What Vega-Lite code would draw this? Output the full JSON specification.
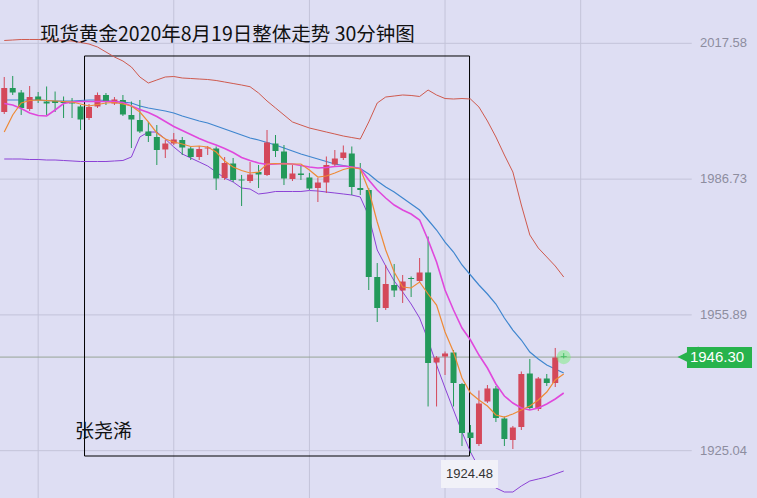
{
  "$schema": "https://vega.github.io/schema/vega-lite/v6.json",
  "width": 757,
  "height": 498,
  "autosize": {"type": "none"},
  "padding": 0,
  "background": "#dedef3",
  "config": {"view": {"stroke": null}, "font": "Liberation Sans", "scale": {"continuousPadding": 0}},
  "title": {
    "text": "现货黄金2020年8月19日整体走势 30分钟图",
    "anchor": "start",
    "frame": "group",
    "orient": "top",
    "offset": 0,
    "baseline": "bottom",
    "dx": 40,
    "dy": 65,
    "font": "Noto Sans CJK SC",
    "fontSize": 19.5,
    "fontWeight": "normal",
    "color": "#111111"
  },
  "datasets": {
    "k": [
      {"i":0,"o":2001.98,"h":2009.93,"l":2001.52,"c":2007.43},
      {"i":1,"o":2007.43,"h":2010.16,"l":2005.84,"c":2006.41},
      {"i":2,"o":2006.41,"h":2006.97,"l":2001.30,"c":2002.89},
      {"i":3,"o":2002.66,"h":2007.88,"l":2002.20,"c":2005.38},
      {"i":4,"o":2005.50,"h":2006.52,"l":2004.02,"c":2004.70},
      {"i":5,"o":2004.36,"h":2007.77,"l":2001.30,"c":2003.91},
      {"i":6,"o":2004.48,"h":2006.63,"l":2001.98,"c":2004.02},
      {"i":7,"o":2004.36,"h":2005.50,"l":2000.61,"c":2004.02},
      {"i":8,"o":2004.25,"h":2005.16,"l":2000.61,"c":2003.91},
      {"i":9,"o":2003.23,"h":2003.57,"l":1997.89,"c":2000.27},
      {"i":10,"o":2000.61,"h":2003.79,"l":2000.16,"c":2003.11},
      {"i":11,"o":2003.23,"h":2006.41,"l":2002.89,"c":2005.84},
      {"i":12,"o":2005.84,"h":2006.29,"l":2003.57,"c":2004.36},
      {"i":13,"o":2003.91,"h":2005.38,"l":2003.57,"c":2004.82},
      {"i":14,"o":2004.70,"h":2005.84,"l":2001.07,"c":2001.41},
      {"i":15,"o":2001.30,"h":2004.36,"l":1993.80,"c":2000.27},
      {"i":16,"o":2000.16,"h":2004.70,"l":1997.21,"c":1997.55},
      {"i":17,"o":1997.55,"h":1999.71,"l":1995.16,"c":1996.52},
      {"i":18,"o":1996.30,"h":1999.02,"l":1989.94,"c":1993.34},
      {"i":19,"o":1993.46,"h":1995.62,"l":1991.53,"c":1994.82},
      {"i":20,"o":1994.82,"h":1997.21,"l":1994.48,"c":1995.73},
      {"i":21,"o":1995.62,"h":1996.30,"l":1992.21,"c":1993.91},
      {"i":22,"o":1993.69,"h":1994.03,"l":1991.07,"c":1991.75},
      {"i":23,"o":1991.75,"h":1994.25,"l":1991.07,"c":1993.57},
      {"i":24,"o":1993.69,"h":1994.25,"l":1992.21,"c":1993.91},
      {"i":25,"o":1993.69,"h":1994.14,"l":1984.26,"c":1986.87},
      {"i":26,"o":1986.98,"h":1991.75,"l":1986.53,"c":1990.39},
      {"i":27,"o":1990.28,"h":1991.53,"l":1986.08,"c":1986.53},
      {"i":28,"o":1986.64,"h":1987.67,"l":1980.62,"c":1986.42},
      {"i":29,"o":1986.30,"h":1990.62,"l":1985.85,"c":1987.78},
      {"i":30,"o":1988.35,"h":1989.94,"l":1984.71,"c":1987.78},
      {"i":31,"o":1987.67,"h":1997.89,"l":1987.44,"c":1995.05},
      {"i":32,"o":1994.82,"h":1996.75,"l":1991.75,"c":1993.12},
      {"i":33,"o":1993.00,"h":1994.48,"l":1985.39,"c":1986.87},
      {"i":34,"o":1986.76,"h":1989.94,"l":1986.30,"c":1988.01},
      {"i":35,"o":1988.01,"h":1989.94,"l":1986.53,"c":1987.67},
      {"i":36,"o":1987.10,"h":1988.12,"l":1984.26,"c":1984.60},
      {"i":37,"o":1984.71,"h":1986.98,"l":1981.53,"c":1985.96},
      {"i":38,"o":1985.96,"h":1991.87,"l":1983.58,"c":1989.94},
      {"i":39,"o":1990.05,"h":1993.34,"l":1989.71,"c":1991.41},
      {"i":40,"o":1991.53,"h":1994.37,"l":1991.07,"c":1992.78},
      {"i":41,"o":1992.55,"h":1994.14,"l":1983.12,"c":1984.94},
      {"i":42,"o":1984.71,"h":1990.39,"l":1983.12,"c":1984.26},
      {"i":43,"o":1984.26,"h":1984.71,"l":1961.54,"c":1964.49},
      {"i":44,"o":1964.49,"h":1967.67,"l":1954.27,"c":1957.45},
      {"i":45,"o":1957.45,"h":1967.22,"l":1957.00,"c":1962.90},
      {"i":46,"o":1962.68,"h":1967.45,"l":1959.95,"c":1961.43},
      {"i":47,"o":1961.43,"h":1964.95,"l":1958.59,"c":1963.47},
      {"i":48,"o":1964.27,"h":1964.61,"l":1959.95,"c":1964.04},
      {"i":49,"o":1963.59,"h":1968.81,"l":1963.13,"c":1965.52},
      {"i":50,"o":1965.52,"h":1973.69,"l":1935.08,"c":1944.96},
      {"i":51,"o":1945.07,"h":1946.55,"l":1935.08,"c":1946.21},
      {"i":52,"o":1946.43,"h":1947.57,"l":1942.23,"c":1947.12},
      {"i":53,"o":1947.34,"h":1947.91,"l":1935.08,"c":1940.41},
      {"i":54,"o":1940.19,"h":1940.41,"l":1926.10,"c":1929.06},
      {"i":55,"o":1929.17,"h":1930.87,"l":1924.48,"c":1927.92},
      {"i":56,"o":1926.56,"h":1938.71,"l":1926.10,"c":1935.76},
      {"i":57,"o":1936.21,"h":1939.96,"l":1935.87,"c":1939.17},
      {"i":58,"o":1939.17,"h":1939.73,"l":1931.55,"c":1932.46},
      {"i":59,"o":1932.35,"h":1932.80,"l":1926.10,"c":1927.69},
      {"i":60,"o":1927.47,"h":1930.65,"l":1925.42,"c":1930.30},
      {"i":61,"o":1930.42,"h":1943.03,"l":1929.74,"c":1942.46},
      {"i":62,"o":1942.57,"h":1945.87,"l":1934.28,"c":1934.73},
      {"i":63,"o":1934.51,"h":1941.78,"l":1934.05,"c":1941.44},
      {"i":64,"o":1941.44,"h":1942.46,"l":1939.73,"c":1940.41},
      {"i":65,"o":1940.41,"h":1948.37,"l":1939.50,"c":1946.21},
      {"i":66,"o":1946.50,"h":1947.20,"l":1946.00,"c":1946.30}
    ],
    "ma": [
      {"i":0,"up":2018.22,"mid":2004.70,"lo":1991.30,"mg":2003.91,"ma":1997.43},
      {"i":1,"up":2018.33,"mid":2004.70,"lo":1991.30,"mg":2003.57,"ma":2001.30},
      {"i":2,"up":2018.45,"mid":2004.70,"lo":1991.30,"mg":2002.77,"ma":2004.02},
      {"i":3,"up":2018.45,"mid":2004.70,"lo":1991.19,"mg":2001.75,"ma":2004.59},
      {"i":4,"up":2018.45,"mid":2004.70,"lo":1991.19,"mg":2001.18,"ma":2004.70},
      {"i":5,"up":2018.40,"mid":2004.59,"lo":1991.07,"mg":2001.07,"ma":2004.59},
      {"i":6,"up":2018.33,"mid":2004.48,"lo":1991.07,"mg":2002.43,"ma":2004.48},
      {"i":7,"up":2018.22,"mid":2004.48,"lo":1990.96,"mg":2003.91,"ma":2004.36},
      {"i":8,"up":2018.11,"mid":2004.48,"lo":1990.85,"mg":2004.25,"ma":2004.25},
      {"i":9,"up":2017.77,"mid":2004.59,"lo":1990.73,"mg":2004.36,"ma":2003.79},
      {"i":10,"up":2017.42,"mid":2004.70,"lo":1990.73,"mg":2004.36,"ma":2003.34},
      {"i":11,"up":2016.74,"mid":2004.70,"lo":1990.73,"mg":2004.36,"ma":2003.68},
      {"i":12,"up":2015.61,"mid":2004.59,"lo":1990.73,"mg":2004.36,"ma":2004.02},
      {"i":13,"up":2014.47,"mid":2004.36,"lo":1990.85,"mg":2004.36,"ma":2004.14},
      {"i":14,"up":2013.56,"mid":2004.25,"lo":1990.96,"mg":2004.14,"ma":2003.79},
      {"i":15,"up":2012.20,"mid":2004.02,"lo":1991.75,"mg":2003.34,"ma":2003.34},
      {"i":16,"up":2009.93,"mid":2003.34,"lo":1996.30,"mg":2002.55,"ma":2001.98},
      {"i":17,"up":2008.56,"mid":2002.89,"lo":1997.43,"mg":2001.86,"ma":1999.71},
      {"i":18,"up":2009.25,"mid":2002.55,"lo":1997.43,"mg":2000.95,"ma":1997.21},
      {"i":19,"up":2009.93,"mid":2002.20,"lo":1995.84,"mg":1999.82,"ma":1995.84},
      {"i":20,"up":2010.04,"mid":2001.75,"lo":1994.03,"mg":1998.68,"ma":1995.16},
      {"i":21,"up":2009.70,"mid":2001.07,"lo":1992.44,"mg":1997.77,"ma":1994.71},
      {"i":22,"up":2009.59,"mid":2000.50,"lo":1991.53,"mg":1996.87,"ma":1994.14},
      {"i":23,"up":2009.47,"mid":1999.93,"lo":1990.62,"mg":1995.96,"ma":1994.25},
      {"i":24,"up":2009.36,"mid":1999.48,"lo":1989.71,"mg":1995.16,"ma":1994.03},
      {"i":25,"up":2009.13,"mid":1998.80,"lo":1988.35,"mg":1994.48,"ma":1992.89},
      {"i":26,"up":2008.79,"mid":1998.12,"lo":1986.98,"mg":1993.69,"ma":1990.85},
      {"i":27,"up":2008.45,"mid":1997.43,"lo":1986.08,"mg":1992.78,"ma":1989.48},
      {"i":28,"up":2008.11,"mid":1996.75,"lo":1984.71,"mg":1991.64,"ma":1988.69},
      {"i":29,"up":2007.72,"mid":1996.07,"lo":1984.48,"mg":1990.96,"ma":1988.12},
      {"i":30,"up":2006.29,"mid":1995.62,"lo":1983.35,"mg":1990.39,"ma":1988.35},
      {"i":31,"up":2004.48,"mid":1995.05,"lo":1983.58,"mg":1990.05,"ma":1990.16},
      {"i":32,"up":2002.89,"mid":1994.48,"lo":1983.92,"mg":1990.16,"ma":1990.28},
      {"i":33,"up":2001.30,"mid":1993.80,"lo":1983.92,"mg":1990.28,"ma":1990.16},
      {"i":34,"up":1999.71,"mid":1993.12,"lo":1983.92,"mg":1990.16,"ma":1990.16},
      {"i":35,"up":1999.02,"mid":1992.44,"lo":1983.92,"mg":1989.82,"ma":1990.16},
      {"i":36,"up":1998.34,"mid":1991.87,"lo":1984.14,"mg":1989.48,"ma":1988.80},
      {"i":37,"up":1997.89,"mid":1991.30,"lo":1984.03,"mg":1989.26,"ma":1987.21},
      {"i":38,"up":1997.43,"mid":1990.73,"lo":1983.80,"mg":1989.37,"ma":1987.44},
      {"i":39,"up":1996.98,"mid":1990.16,"lo":1983.58,"mg":1989.60,"ma":1988.12},
      {"i":40,"up":1996.52,"mid":1989.82,"lo":1983.35,"mg":1989.71,"ma":1988.91},
      {"i":41,"up":1996.18,"mid":1989.48,"lo":1983.12,"mg":1989.48,"ma":1989.37},
      {"i":42,"up":1995.84,"mid":1989.14,"lo":1982.67,"mg":1989.14,"ma":1989.03},
      {"i":43,"up":1999.71,"mid":1987.89,"lo":1978.35,"mg":1986.53,"ma":1984.26},
      {"i":44,"up":2004.02,"mid":1986.30,"lo":1970.63,"mg":1984.26,"ma":1976.99},
      {"i":45,"up":2005.38,"mid":1984.94,"lo":1966.99,"mg":1982.44,"ma":1970.63},
      {"i":46,"up":2005.61,"mid":1983.80,"lo":1963.59,"mg":1980.85,"ma":1965.63},
      {"i":47,"up":2005.84,"mid":1982.44,"lo":1961.09,"mg":1979.71,"ma":1962.22},
      {"i":48,"up":2005.73,"mid":1981.08,"lo":1958.36,"mg":1978.81,"ma":1962.00},
      {"i":49,"up":2005.50,"mid":1979.71,"lo":1955.18,"mg":1977.44,"ma":1963.36},
      {"i":50,"up":2006.97,"mid":1977.44,"lo":1950.18,"mg":1972.90,"ma":1960.63},
      {"i":51,"up":2005.84,"mid":1975.17,"lo":1944.50,"mg":1967.90,"ma":1958.13},
      {"i":52,"up":2005.04,"mid":1972.44,"lo":1939.28,"mg":1961.54,"ma":1952.00},
      {"i":53,"up":2004.93,"mid":1970.17,"lo":1934.28,"mg":1957.00,"ma":1947.46},
      {"i":54,"up":2005.04,"mid":1967.22,"lo":1929.28,"mg":1952.91,"ma":1941.55},
      {"i":55,"up":2004.93,"mid":1964.95,"lo":1924.74,"mg":1950.18,"ma":1938.14},
      {"i":56,"up":2003.11,"mid":1962.68,"lo":1921.10,"mg":1946.77,"ma":1936.55},
      {"i":57,"up":1999.93,"mid":1960.63,"lo":1918.38,"mg":1943.82,"ma":1935.19},
      {"i":58,"up":1996.30,"mid":1958.36,"lo":1916.56,"mg":1940.19,"ma":1933.14},
      {"i":59,"up":1992.21,"mid":1955.18,"lo":1915.65,"mg":1937.46,"ma":1932.69},
      {"i":60,"up":1988.35,"mid":1952.45,"lo":1915.65,"mg":1935.87,"ma":1933.37},
      {"i":61,"up":1980.85,"mid":1950.18,"lo":1917.02,"mg":1934.73,"ma":1934.28},
      {"i":62,"up":1974.04,"mid":1947.46,"lo":1918.15,"mg":1934.28,"ma":1935.19},
      {"i":63,"up":1971.08,"mid":1945.87,"lo":1918.61,"mg":1934.73,"ma":1936.55},
      {"i":64,"up":1969.04,"mid":1944.50,"lo":1919.06,"mg":1935.64,"ma":1938.37},
      {"i":65,"up":1966.99,"mid":1943.59,"lo":1919.74,"mg":1936.78,"ma":1941.10},
      {"i":66,"up":1964.49,"mid":1942.69,"lo":1920.42,"mg":1938.14,"ma":1942.46}
    ],
    "grid": [{"p":2017.58},{"p":1986.73},{"p":1955.89},{"p":1925.04}],
    "vgrid": [{"i":4},{"i":20},{"i":36},{"i":52},{"i":68}],
    "last": [{"i":66,"price":1946.30,"label":"1946.30"}],
    "low": [{"i":55,"price":1924.48,"label":"1924.48"}],
    "author": [{"name":"张尧浠"}]
  },
  "layer": [
    {
      "data": {"name": "vgrid"},
      "mark": {"type": "rule", "color": "#c3c3d9", "strokeWidth": 1},
      "encoding": {
        "x": {"field": "i", "type": "quantitative", "scale": {"domain": [-0.5, 88.8], "nice": false, "zero": false, "padding": 0}, "axis": null}
      }
    },
    {
      "data": {"name": "grid"},
      "mark": {"type": "rule", "color": "#c3c3d9", "strokeWidth": 1},
      "encoding": {
        "y": {"field": "p", "type": "quantitative", "scale": {"domain": [1914.29, 2027.42], "nice": false, "zero": false, "padding": 0}, "axis": null},
        "x": {"datum": -0.5, "type": "quantitative", "scale": {"domain": [-0.5, 88.8], "nice": false, "zero": false, "padding": 0}, "axis": null},
        "x2": {"datum": 81.1}
      }
    },
    {
      "data": {"name": "grid"},
      "mark": {"type": "text", "color": "#8d8d9f", "fontSize": 13, "font": "Liberation Sans", "align": "right", "baseline": "middle"},
      "encoding": {
        "y": {"field": "p", "type": "quantitative", "axis": null},
        "x": {"datum": 87.62, "type": "quantitative", "axis": null},
        "text": {"field": "p", "type": "quantitative", "format": ".2f"}
      }
    },
    {
      "data": {"name": "last"},
      "mark": {"type": "rule", "color": "#97a497", "strokeWidth": 1},
      "encoding": {
        "y": {"field": "price", "type": "quantitative", "axis": null},
        "x": {"datum": -0.5, "type": "quantitative", "axis": null},
        "x2": {"datum": 80.4}
      }
    },
    {
      "data": {"values": [{}]},
      "mark": {"type": "rect", "filled": false, "stroke": "#000000", "strokeWidth": 1},
      "encoding": {
        "x": {"datum": 9.47, "type": "quantitative", "axis": null},
        "x2": {"datum": 54.89},
        "y": {"datum": 2014.70, "type": "quantitative", "axis": null},
        "y2": {"datum": 1923.83}
      }
    },
    {
      "data": {"name": "ma"},
      "mark": {"type": "line", "color": "#cf5a4e", "strokeWidth": 1},
      "encoding": {
        "x": {"field": "i", "type": "quantitative", "axis": null},
        "y": {"field": "up", "type": "quantitative", "axis": null}
      }
    },
    {
      "data": {"name": "ma"},
      "mark": {"type": "line", "color": "#3f86cf", "strokeWidth": 1.2},
      "encoding": {
        "x": {"field": "i", "type": "quantitative", "axis": null},
        "y": {"field": "mid", "type": "quantitative", "axis": null}
      }
    },
    {
      "data": {"name": "ma"},
      "mark": {"type": "line", "color": "#8c42d6", "strokeWidth": 1},
      "encoding": {
        "x": {"field": "i", "type": "quantitative", "axis": null},
        "y": {"field": "lo", "type": "quantitative", "axis": null}
      }
    },
    {
      "data": {"name": "k"},
      "mark": {"type": "rule", "strokeWidth": 1},
      "encoding": {
        "x": {"field": "i", "type": "quantitative", "axis": null},
        "y": {"field": "l", "type": "quantitative", "axis": null},
        "y2": {"field": "h"},
        "color": {"condition": {"test": "datum.c > datum.o", "value": "#d4485a"}, "value": "#23995a"}
      }
    },
    {
      "data": {"name": "k"},
      "mark": {"type": "bar", "size": 6},
      "encoding": {
        "x": {"field": "i", "type": "quantitative", "axis": null},
        "y": {"field": "o", "type": "quantitative", "axis": null},
        "y2": {"field": "c"},
        "color": {"condition": {"test": "datum.c > datum.o", "value": "#d4485a"}, "value": "#23995a"}
      }
    },
    {
      "data": {"name": "ma"},
      "mark": {"type": "line", "color": "#e048dc", "strokeWidth": 1.6},
      "encoding": {
        "x": {"field": "i", "type": "quantitative", "axis": null},
        "y": {"field": "mg", "type": "quantitative", "axis": null}
      }
    },
    {
      "data": {"name": "ma"},
      "mark": {"type": "line", "color": "#ee8a36", "strokeWidth": 1.2},
      "encoding": {
        "x": {"field": "i", "type": "quantitative", "axis": null},
        "y": {"field": "ma", "type": "quantitative", "axis": null}
      }
    },
    {
      "data": {"name": "last"},
      "mark": {"type": "point", "shape": "circle", "filled": true, "size": 200, "color": "#6ef06e", "opacity": 0.45},
      "encoding": {
        "x": {"field": "i", "type": "quantitative", "axis": null},
        "y": {"field": "price", "type": "quantitative", "axis": null}
      }
    },
    {
      "data": {"name": "last"},
      "mark": {"type": "rect", "color": "#27b34c"},
      "encoding": {
        "x": {"datum": 80.54, "type": "quantitative", "axis": null},
        "x2": {"datum": 88.21},
        "y": {"datum": 1948.59, "type": "quantitative", "axis": null},
        "y2": {"datum": 1943.82}
      }
    },
    {
      "data": {"name": "last"},
      "mark": {"type": "point", "shape": "M-1,0L1,-1L1,1Z", "filled": true, "size": 441, "color": "#27b34c", "opacity": 1},
      "encoding": {
        "x": {"datum": 80.66, "type": "quantitative", "axis": null},
        "y": {"field": "price", "type": "quantitative", "axis": null}
      }
    },
    {
      "data": {"name": "last"},
      "mark": {"type": "text", "color": "#ffffff", "fontSize": 15, "font": "Liberation Sans", "align": "center", "baseline": "middle"},
      "encoding": {
        "x": {"datum": 84.08, "type": "quantitative", "axis": null},
        "y": {"field": "price", "type": "quantitative", "axis": null},
        "text": {"field": "label"}
      }
    },
    {
      "data": {"name": "low"},
      "mark": {"type": "rect", "color": "#f1f1f8"},
      "encoding": {
        "x": {"datum": 51.52, "type": "quantitative", "axis": null},
        "x2": {"datum": 58.25},
        "y": {"datum": 1922.92, "type": "quantitative", "axis": null},
        "y2": {"datum": 1916.56}
      }
    },
    {
      "data": {"name": "low"},
      "mark": {"type": "text", "color": "#333333", "fontSize": 13, "font": "Liberation Sans", "align": "center", "baseline": "middle"},
      "encoding": {
        "x": {"datum": 54.89, "type": "quantitative", "axis": null},
        "y": {"datum": 1919.74, "type": "quantitative", "axis": null},
        "text": {"field": "label"}
      }
    },
    {
      "data": {"name": "author"},
      "mark": {"type": "text", "color": "#111111", "fontSize": 19, "font": "Noto Sans CJK SC", "align": "left", "baseline": "middle"},
      "encoding": {
        "x": {"datum": 8.35, "type": "quantitative", "axis": null},
        "y": {"datum": 1929.28, "type": "quantitative", "axis": null},
        "text": {"field": "name"}
      }
    }
  ]
}
